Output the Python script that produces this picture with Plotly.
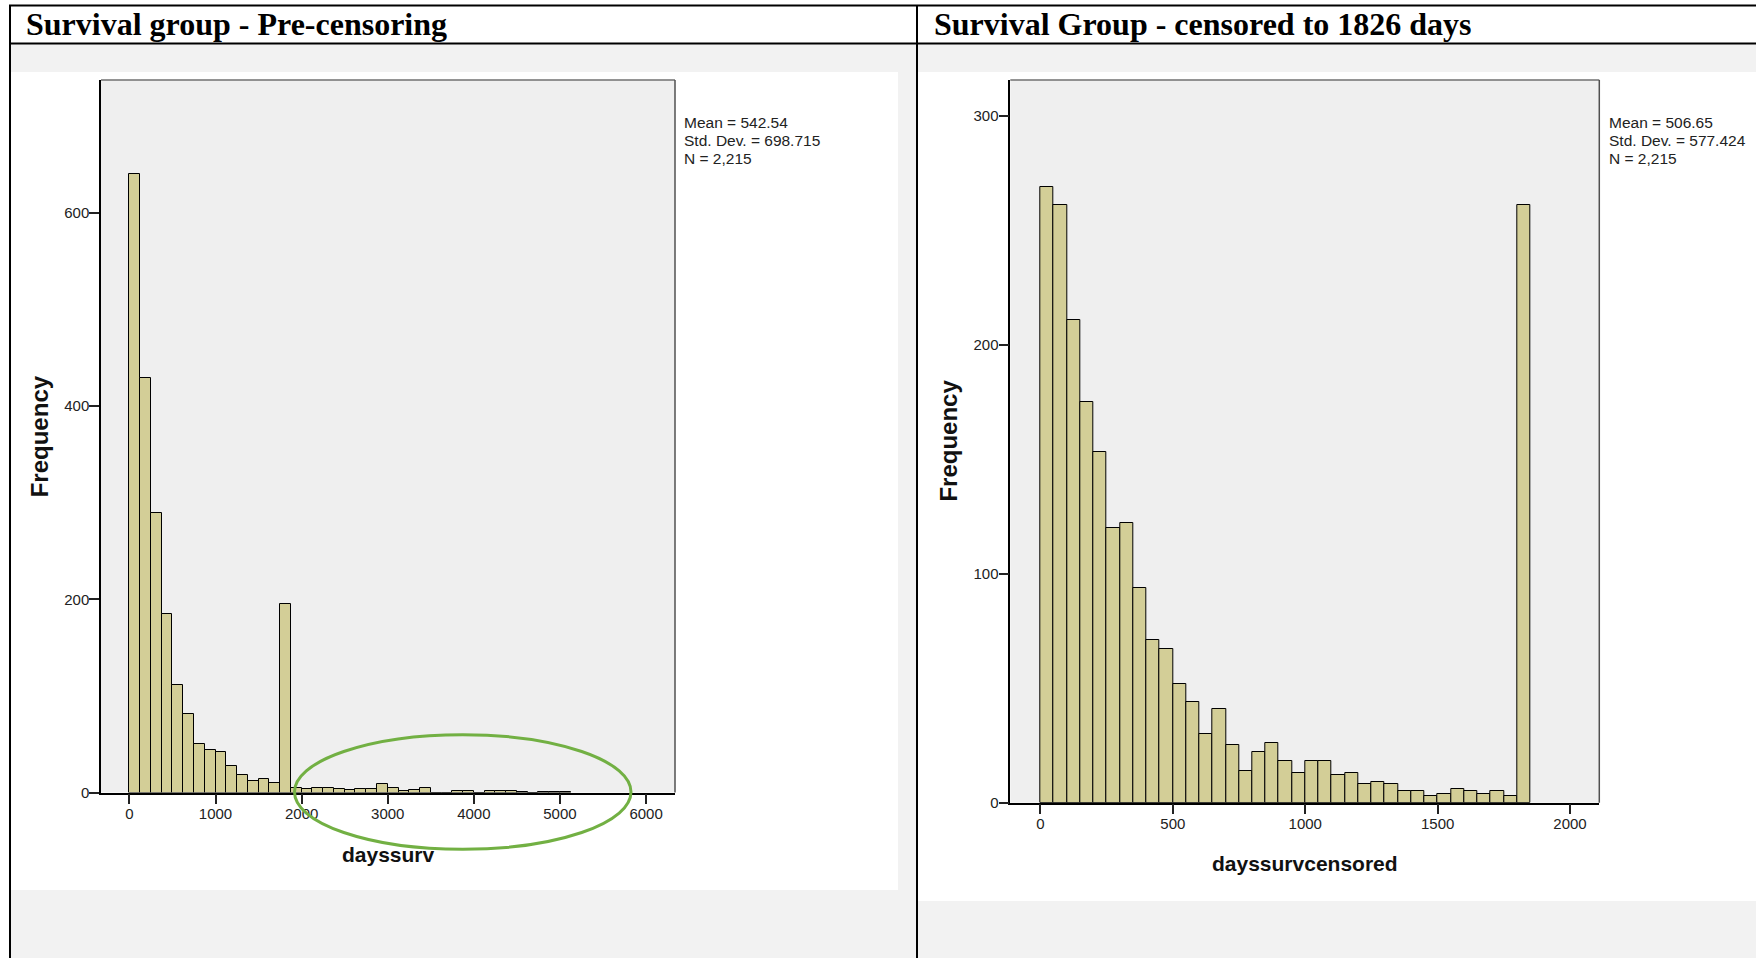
import plotly.graph_objects as go

W, H = 1756, 958
H_EFF = 950  # effective rendered height used for placing paper coordinates

# ---------------- data ----------------
left_bin_width = 125
left_counts = [640, 429, 289, 185, 111, 81, 50, 44, 42, 27, 18, 12, 14, 10, 195,
               5, 4, 5, 5, 4, 3, 4, 4, 9, 5, 2, 3, 5, 0, 0, 2, 2, 0, 2, 2, 2, 1, 0, 1, 1, 1]
right_bin_width = 50
right_counts = [269, 261, 211, 175, 153, 120, 122, 94, 71, 67, 52, 44, 30, 41, 25, 14, 22, 26, 18, 13,
                18, 18, 12, 13, 8, 9, 8, 5, 5, 3, 4, 6, 5, 4, 5, 3, 261]
left_xticks = [0, 1000, 2000, 3000, 4000, 5000, 6000]
left_yticks = [0, 200, 400, 600]
right_xticks = [0, 500, 1000, 1500, 2000]
right_yticks = [0, 100, 200, 300]
left_stats = ["Mean = 542.54", "Std. Dev. = 698.715", "N = 2,215"]
right_stats = ["Mean = 506.65", "Std. Dev. = 577.424", "N = 2,215"]
left_title = "Survival group - Pre-censoring"
right_title = "Survival Group - censored to 1826 days"
left_xlabel = "dayssurv"
right_xlabel = "dayssurvcensored"
ylabel = "Frequency"

BAR = "#d3ce97"
PLOTBG = "#efefef"
CELLBG = "#f2f2f2"
TICKFONT = "Liberation Sans, Arial, sans-serif"
BOLDFONT = "Liberation Sans, Arial, sans-serif"
SERIF = "Liberation Serif, Times New Roman, serif"


def px(x):
    return x / W


def py(y):
    return 1 - y / H_EFF


fig = go.Figure()

left_x = [i * left_bin_width + left_bin_width / 2 for i in range(len(left_counts))]
right_x = [i * right_bin_width + right_bin_width / 2 for i in range(len(right_counts))]

fig.add_trace(go.Bar(x=left_x, y=left_counts, width=left_bin_width,
                     marker=dict(color=BAR, line=dict(color="black", width=1)),
                     xaxis="x", yaxis="y", hoverinfo="skip"))
fig.add_trace(go.Bar(x=right_x, y=right_counts, width=right_bin_width,
                     marker=dict(color=BAR, line=dict(color="black", width=1)),
                     xaxis="x2", yaxis="y2", hoverinfo="skip"))

axis_common = dict(showgrid=False, zeroline=False, showline=True, linecolor="black", linewidth=1.5,
                   ticks="outside", ticklen=10, tickwidth=1.5, tickcolor="#222",
                   tickfont=dict(family=TICKFONT, size=15, color="#222"), layer="above traces")

L = dict(x0=101, x1=675, y0=80, y1=792.5)
R = dict(x0=1010.3, x1=1599.3, y0=80, y1=802.7)

fig.update_layout(
    width=W, height=H, margin=dict(l=0, r=0, t=0, b=0),
    paper_bgcolor="white", plot_bgcolor="rgba(0,0,0,0)", showlegend=False, bargap=0,
    xaxis=dict(domain=[px(L["x0"]), px(L["x1"])], range=[-330, 6336], tickvals=left_xticks,
               anchor="y", ticklabelstandoff=-3, **axis_common),
    yaxis=dict(domain=[py(L["y1"]), py(L["y0"])], range=[0, 737.5], tickvals=left_yticks,
               anchor="x", ticklabelstandoff=-3, **axis_common),
    xaxis2=dict(domain=[px(R["x0"]), px(R["x1"])], range=[-114, 2110.6], tickvals=right_xticks,
                anchor="y2", ticklabelstandoff=-3, **axis_common),
    yaxis2=dict(domain=[py(R["y1"]), py(R["y0"])], range=[0, 315.7], tickvals=right_yticks,
                anchor="x2", ticklabelstandoff=-3, **axis_common),
)

BOTTOM = py(970)
shapes = []
# cell background grey
shapes.append(dict(type="rect", xref="paper", yref="paper", x0=px(10), x1=1.01, y0=BOTTOM, y1=py(44),
                   fillcolor=CELLBG, line=dict(width=0), layer="below"))
# white chart images
shapes.append(dict(type="rect", xref="paper", yref="paper", x0=px(11), x1=px(898), y0=py(890), y1=py(72),
                   fillcolor="white", line=dict(width=0), layer="below"))
shapes.append(dict(type="rect", xref="paper", yref="paper", x0=px(918), x1=1.01, y0=py(901), y1=py(72),
                   fillcolor="white", line=dict(width=0), layer="below"))
# plot backgrounds and frames
for P in (L, R):
    shapes.append(dict(type="rect", xref="paper", yref="paper", x0=px(P["x0"]), x1=px(P["x1"]),
                       y0=py(P["y1"]), y1=py(P["y0"]), fillcolor=PLOTBG, line=dict(width=0), layer="below"))
    shapes.append(dict(type="line", xref="paper", yref="paper", x0=px(P["x0"]), x1=px(P["x1"]),
                       y0=py(P["y0"]), y1=py(P["y0"]), line=dict(color="#707070", width=1.5), layer="above"))
    shapes.append(dict(type="line", xref="paper", yref="paper", x0=px(P["x1"]), x1=px(P["x1"]),
                       y0=py(P["y0"]), y1=py(P["y1"]), line=dict(color="#505050", width=1.5), layer="above"))
# table lines
tl = dict(color="black", width=2)
shapes.append(dict(type="line", xref="paper", yref="paper", x0=px(9), x1=1.01, y0=py(5.5), y1=py(5.5), line=tl))
shapes.append(dict(type="line", xref="paper", yref="paper", x0=px(9), x1=1.01, y0=py(43.5), y1=py(43.5), line=tl))
shapes.append(dict(type="line", xref="paper", yref="paper", x0=px(10), x1=px(10), y0=py(5), y1=BOTTOM, line=tl))
shapes.append(dict(type="line", xref="paper", yref="paper", x0=px(917), x1=px(917), y0=py(5), y1=BOTTOM, line=tl))
# green ellipse annotation
shapes.append(dict(type="circle", xref="paper", yref="paper", x0=px(294.5), x1=px(631), y0=py(849.3), y1=py(734.7),
                   line=dict(color="#72b043", width=3), fillcolor="rgba(0,0,0,0)", layer="above"))
fig.update_layout(shapes=shapes)

ann = []
ann.append(dict(text="<b>" + left_title + "</b>", x=px(24), y=py(24.5), xref="paper", yref="paper",
                xanchor="left", yanchor="middle", showarrow=False,
                font=dict(family=SERIF, size=32, color="black")))
ann.append(dict(text="<b>" + right_title + "</b>", x=px(932), y=py(24.5), xref="paper", yref="paper",
                xanchor="left", yanchor="middle", showarrow=False,
                font=dict(family=SERIF, size=32, color="black")))

for stats, x0 in ((left_stats, 682), (right_stats, 1607)):
    for i, s in enumerate(stats):
        ann.append(dict(text=s, x=px(x0), y=py(123 + 17.6 * i), xref="paper", yref="paper",
                        xanchor="left", yanchor="middle", showarrow=False,
                        font=dict(family=TICKFONT, size=15.5, color="#222")))

ann.append(dict(text="<b>" + ylabel + "</b>", x=px(40.3), y=py(436), xref="paper", yref="paper", textangle=-90,
                xanchor="center", yanchor="middle", showarrow=False, font=dict(family=BOLDFONT, size=24, color="#111")))
ann.append(dict(text="<b>" + ylabel + "</b>", x=px(948.6), y=py(441), xref="paper", yref="paper", textangle=-90,
                xanchor="center", yanchor="middle", showarrow=False, font=dict(family=BOLDFONT, size=24, color="#111")))
ann.append(dict(text="<b>" + left_xlabel + "</b>", x=px(388.5), y=py(854), xref="paper", yref="paper",
                xanchor="center", yanchor="middle", showarrow=False, font=dict(family=BOLDFONT, size=21, color="#111")))
ann.append(dict(text="<b>" + right_xlabel + "</b>", x=px(1305), y=py(863), xref="paper", yref="paper",
                xanchor="center", yanchor="middle", showarrow=False, font=dict(family=BOLDFONT, size=21, color="#111")))
fig.update_layout(annotations=ann)

fig.write_html("out.html")
